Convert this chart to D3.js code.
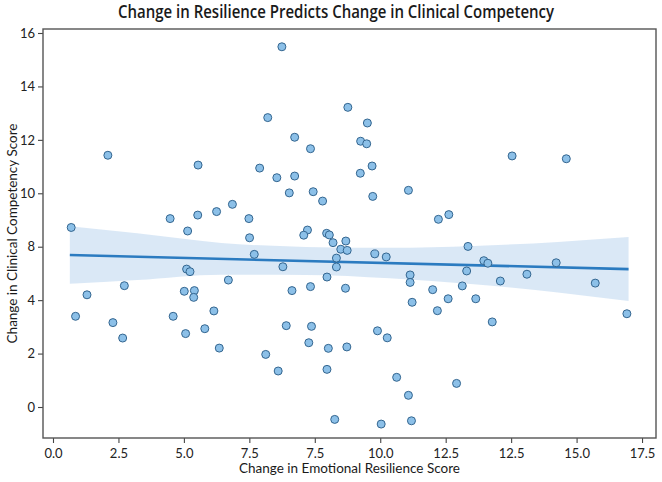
<!DOCTYPE html>
<html>
<head>
<meta charset="utf-8">
<script src="https://cdn.jsdelivr.net/npm/d3@7"></script>
<style>
  html, body { margin: 0; padding: 0; background: #fff; }
  svg { display: block; }
</style>
</head>
<body>
<svg id="chart" width="662" height="482"></svg>
<script>
// 散点数据：情绪韧性变化 / 临床能力变化
const resilience = [
  1.63, 4.31, 6.14, 6.80, 8.76, 6.38, 9.34, 7.18, 7.65, 9.14,
  9.32, 6.65, 7.18, 9.48, 9.13, 7.02, 7.73, 9.50, 10.56, 13.64,
  15.25, 0.54, 3.48, 4.30, 4.86, 5.33, 5.82, 4.00, 5.84, 5.98,
  3.97, 4.07, 5.21, 2.12, 1.01, 3.90, 4.20, 4.18, 8.01, 7.56,
  7.45, 8.13, 8.21, 8.32, 8.70, 8.55, 8.74, 8.42, 6.83, 8.42,
  9.56, 9.90, 8.14, 7.10, 7.65, 8.69, 10.61, 10.61, 11.28, 11.74,
  11.45, 11.76, 12.33, 12.80, 12.92, 12.29, 14.95, 14.08, 13.29, 12.16,
  16.11, 4.78, 0.67, 3.57, 1.78, 4.51, 2.07, 3.94, 4.94, 10.67,
  11.42, 6.93, 7.68, 9.64, 9.93, 7.60, 8.18, 8.73, 6.32, 6.69,
  8.14, 10.21, 10.56, 11.99, 8.37, 9.75, 10.65, 12.56, 13.05, 17.05
];
const competency = [
  10.77, 10.35, 10.22, 15.41, 12.82, 12.38, 12.15, 11.54, 11.05, 11.37,
  11.26, 9.81, 9.88, 10.31, 10.00, 9.16, 9.21, 9.01, 9.27, 10.74,
  10.62, 7.68, 8.06, 8.21, 8.36, 8.67, 8.06, 7.53, 7.24, 6.53,
  5.90, 5.79, 5.43, 5.19, 4.80, 4.95, 4.98, 4.69, 8.81, 7.57,
  7.35, 7.43, 7.36, 7.03, 7.10, 6.75, 6.70, 6.37, 6.00, 5.99,
  6.55, 6.42, 5.56, 4.98, 5.15, 5.08, 5.65, 5.33, 5.02, 4.63,
  8.03, 8.23, 6.87, 6.26, 6.15, 5.82, 6.17, 5.68, 5.39, 5.18,
  5.30, 4.11, 3.88, 3.88, 3.61, 3.35, 2.95, 3.14, 2.52, 4.48,
  4.12, 3.48, 3.45, 3.26, 2.96, 2.75, 2.51, 2.57, 2.25, 1.54,
  1.61, 1.27, 0.50, 1.01, -0.53, -0.73, -0.59, 4.63, 3.64, 3.99
];

// 回归线与置信带
const fitX = [0.5, 17.1];
const fitY = [6.50, 5.90];
const bandX = [0.5, 2.5, 5, 7.5, 10, 12.5, 15, 17.1];
const bandLo = [5.27, 5.43, 5.66, 5.65, 5.51, 5.25, 4.90, 4.53];
const bandHi = [7.73, 7.43, 7.02, 6.85, 6.81, 6.89, 7.06, 7.27];

// 刻度标签（按图中原样）
const xTickLabels = ['0.0', '2.5', '5.0', '7.5', '7.5', '10.0', '12.5', '12.5', '15.0', '17.5'];
const yTickLabels = ['16', '14', '12', '10', '8', '4', '2', '0'];

const width = 662;
const height = 482;
const margin = { top: 29, right: 6, bottom: 44, left: 43 };

const svg = d3.select('#chart');

const x = d3.scaleLinear()
  .domain([-0.297, 17.915])
  .range([margin.left, width - margin.right]);
const y = d3.scaleLinear()
  .domain([-1.326, 16.171])
  .range([height - margin.bottom, margin.top]);

const xTicks = xTickLabels.map((_, i) => (i * 17.5) / (xTickLabels.length - 1));
const yTicks = yTickLabels.map((_, i) => 16 - (i * 16) / (yTickLabels.length - 1));

const font = 'Lato, "Open Sans", sans-serif';

// 置信带
const band = bandX.map((d, i) => ({ x: d, lo: bandLo[i], hi: bandHi[i] }));
svg.append('path')
  .datum(band)
  .attr('fill', '#d3e4f4')
  .attr('fill-opacity', 0.85)
  .attr('d', d3.area()
    .x(d => x(d.x))
    .y0(d => y(d.lo))
    .y1(d => y(d.hi))
    .curve(d3.curveMonotoneX));

// 回归线
svg.append('path')
  .datum(fitX.map((d, i) => [d, fitY[i]]))
  .attr('fill', 'none')
  .attr('stroke', '#2b7bc0')
  .attr('stroke-width', 2.6)
  .attr('d', d3.line().x(d => x(d[0])).y(d => y(d[1])));

// 散点
svg.append('g')
  .selectAll('circle')
  .data(resilience.map((d, i) => [d, competency[i]]))
  .join('circle')
  .attr('cx', d => x(d[0]))
  .attr('cy', d => y(d[1]))
  .attr('r', 4)
  .attr('fill', '#8cc0e8')
  .attr('stroke', '#33658f')
  .attr('stroke-width', 1);

// 坐标轴
const xAxis = svg.append('g')
  .attr('transform', `translate(0,${height - margin.bottom})`)
  .call(d3.axisBottom(x)
    .tickValues(xTicks)
    .tickFormat((d, i) => xTickLabels[i])
    .tickSize(5)
    .tickSizeOuter(0));
const yAxis = svg.append('g')
  .attr('transform', `translate(${margin.left},0)`)
  .call(d3.axisLeft(y)
    .tickValues(yTicks)
    .tickFormat((d, i) => yTickLabels[i])
    .tickSize(5)
    .tickSizeOuter(0));

[xAxis, yAxis].forEach(g => {
  g.select('.domain').remove();
  g.selectAll('.tick line').attr('stroke', '#444').attr('stroke-width', 1.1);
  g.selectAll('.tick text')
    .attr('fill', '#222')
    .style('font-family', font)
    .style('font-size', '13px');
});
xAxis.selectAll('.tick text').attr('dy', '0.95em');

// 边框
svg.append('rect')
  .attr('x', margin.left)
  .attr('y', margin.top)
  .attr('width', width - margin.left - margin.right)
  .attr('height', height - margin.top - margin.bottom)
  .attr('fill', 'none')
  .attr('stroke', '#555')
  .attr('stroke-width', 1.4);

// 标题与轴标题
svg.append('text')
  .attr('x', 336)
  .attr('y', 18)
  .attr('text-anchor', 'middle')
  .attr('textLength', 436)
  .attr('lengthAdjust', 'spacingAndGlyphs')
  .style('font-family', '"Open Sans", sans-serif')
  .style('font-weight', 600)
  .style('font-size', '18px')
  .attr('fill', '#1a1a1a')
  .text('Change in Resilience Predicts Change in Clinical Competency');

svg.append('text')
  .attr('x', (margin.left + width - margin.right) / 2)
  .attr('y', 473)
  .attr('text-anchor', 'middle')
  .style('font-family', font)
  .style('font-size', '13.5px')
  .attr('fill', '#1a1a1a')
  .text('Change in Emotional Resilience Score');

svg.append('text')
  .attr('transform', `translate(17,${(margin.top + height - margin.bottom) / 2}) rotate(-90)`)
  .attr('text-anchor', 'middle')
  .style('font-family', font)
  .style('font-size', '13.5px')
  .attr('fill', '#1a1a1a')
  .text('Change in Clinical Competency Score');
</script>
</body>
</html>
